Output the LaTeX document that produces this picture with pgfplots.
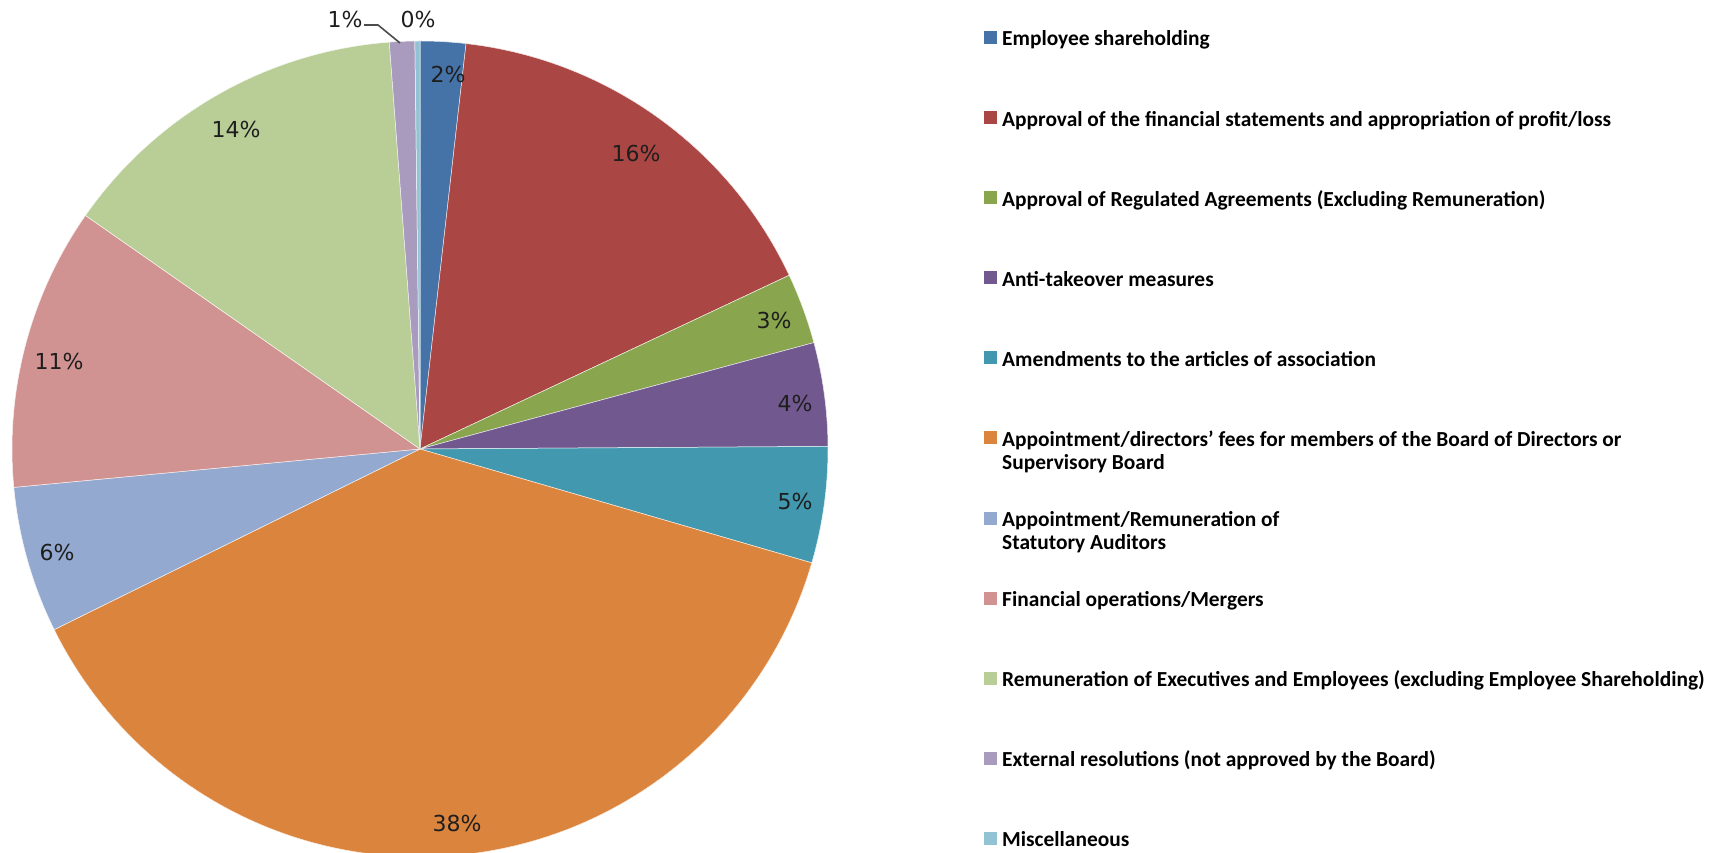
\documentclass[border=0pt]{standalone}
\usepackage{pgfplots}
\pgfplotsset{compat=1.18}
\usepackage{fontspec}
\setmainfont{Carlito}
\newfontfamily\lblfont{DejaVu Sans}

\definecolor{c1}{HTML}{4572A7}
\definecolor{c2}{HTML}{AA4643}
\definecolor{c3}{HTML}{89A54E}
\definecolor{c4}{HTML}{71588F}
\definecolor{c5}{HTML}{4198AF}
\definecolor{c6}{HTML}{DB843D}
\definecolor{c7}{HTML}{93A9CF}
\definecolor{c8}{HTML}{D19392}
\definecolor{c9}{HTML}{B9CD96}
\definecolor{c10}{HTML}{A99BBD}
\definecolor{c11}{HTML}{92C3D4}
\definecolor{lblc}{HTML}{1E1E1E}

% one wedge: colour, cumulative share at start, at end (percent, clockwise from top)
\newcommand{\slice}[3]{%
  \addplot[fill=#1, draw=white!85!#1, line width=0.5pt, domain=90-3.6*#3:90-3.6*#2, samples=100]
    ({420+408*cos(x)}, {404+408*sin(x)}) -- (axis cs:420,404) -- cycle;}

\newcommand{\legfont}{\fontsize{21.4}{24}\selectfont\bfseries}
% legend row: colour, baseline y, square bottom, square top, text
\newcommand{\entry}[5]{%
  \fill[#1] (axis cs:984,#3) rectangle (axis cs:997,#4);
  \node[anchor=base west, inner sep=0pt, font=\legfont] at (axis cs:1002,#2) {#5};}
\newcommand{\pct}[3]{%
  \node[font=\lblfont\fontsize{22}{26}\selectfont, text=lblc, inner sep=0pt] at (axis cs:#1,#2) {#3\%};}

\begin{document}
\begin{tikzpicture}
\begin{axis}[
    width=1722pt, height=853pt, scale only axis,
    hide axis,
    xmin=0, xmax=1722, ymin=0, ymax=853,
  ]
  % shares: 1.8, 16.2, 2.8, 4.1, 4.6, 38.2, 5.8, 11.2, 14.1, 1.0, 0.2
  \slice{c1}{0}{1.8}
  \slice{c2}{1.8}{18.0}
  \slice{c3}{18.0}{20.8}
  \slice{c4}{20.8}{24.9}
  \slice{c5}{24.9}{29.5}
  \slice{c6}{29.5}{67.7}
  \slice{c7}{67.7}{73.5}
  \slice{c8}{73.5}{84.7}
  \slice{c9}{84.7}{98.8}
  \slice{c10}{98.8}{99.8}
  \slice{c11}{99.8}{100}

  \pct{448}{778}{2}
  \pct{636}{699}{16}
  \pct{774}{532}{3}
  \pct{795}{449}{4}
  \pct{795}{351}{5}
  \pct{457}{30}{38}
  \pct{57}{301}{6}
  \pct{59}{491}{11}
  \pct{236}{723}{14}
  \pct{345}{833}{1}
  \pct{418}{833}{0}
  \draw[black!70, line width=1.6pt] (axis cs:364,828) -- (axis cs:378,828) -- (axis cs:400,810);

  \entry{c1}{807}{809}{822}{Employee shareholding}
  \entry{c2}{726.9}{728.9}{741.9}{Approval of the financial statements and appropriation of profit/loss}
  \entry{c3}{646.8}{648.8}{661.8}{Approval of Regulated Agreements (Excluding Remuneration)}
  \entry{c4}{566.7}{568.7}{581.7}{Anti-takeover measures}
  \entry{c5}{486.6}{488.6}{501.6}{Amendments to the articles of association}
  \entry{c6}{406.5}{408.5}{421.5}{Appointment/directors’ fees for members of the Board of Directors or}
  \node[anchor=base west, inner sep=0pt, font=\legfont] at (axis cs:1002,383.5) {Supervisory Board};
  \entry{c7}{326.4}{328.4}{341.4}{Appointment/Remuneration of}
  \node[anchor=base west, inner sep=0pt, font=\legfont] at (axis cs:1002,303.4) {Statutory Auditors};
  \entry{c8}{246.3}{248.3}{261.3}{Financial operations/Mergers}
  \entry{c9}{166.2}{168.2}{181.2}{Remuneration of Executives and Employees (excluding Employee Shareholding)}
  \entry{c10}{86.1}{88.1}{101.1}{External resolutions (not approved by the Board)}
  \entry{c11}{6}{8}{21}{Miscellaneous}
\end{axis}
\pgfresetboundingbox
\path[use as bounding box] (current axis.south west) rectangle (current axis.north east);
\end{tikzpicture}
\end{document}
